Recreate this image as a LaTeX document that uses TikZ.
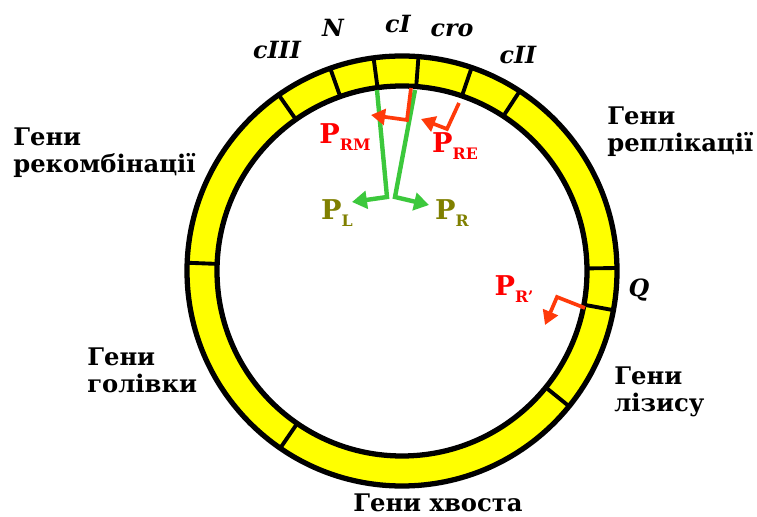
\documentclass[tikz,border=0pt]{standalone}
\usepackage{fontspec}
\setmainfont{DejaVu Serif}
\usetikzlibrary{arrows.meta}

\definecolor{genyellow}{HTML}{FFFF00}
\definecolor{promgreen}{HTML}{3CC83C}
\definecolor{promred}{HTML}{FF3A0A}
\definecolor{labred}{HTML}{FF0000}
\definecolor{labolive}{HTML}{808000}

\newcommand{\promname}[1]{P\raisebox{-0.45ex}{\fontsize{9}{9}\selectfont #1}}

\tikzset{
  genes/.style={font=\bfseries\fontsize{13.8}{15.5}\selectfont, align=left, anchor=west, inner sep=0pt},
  gene/.style={font=\bfseries\itshape\fontsize{13.5}{13.5}\selectfont, inner sep=0pt},
  prom/.style={font=\bfseries\fontsize{15.5}{15.5}\selectfont, inner sep=0pt},
  greenarrow/.style={promgreen, line width=2.5pt, -{Triangle[length=8.5pt,width=10pt]}},
  redarrow/.style={promred, line width=2.1pt, -{Triangle[length=8pt,width=9pt]}},
}

\begin{document}
\begin{tikzpicture}[x=0.02cm, y=0.02cm]
\useasboundingbox (0,0) rectangle (757,517);
\coordinate (c) at (402,246);

% Ring of genes
\fill[genyellow, even odd rule] (c) circle (215) (c) circle (185);
\draw[line width=3pt] (c) circle (215) (c) circle (185);
\foreach \a in {125,109.5,97.6,85.6,71.1,56.8,0.8,-10.5,-39,-124.5,177.8}
  \draw[line width=2.2pt, shift={(c)}] (\a:185) -- (\a:215);

% Gene names
\node[gene] (cIII) at (277,467) {cIII};
\node[gene] (N) at (333,489) {N};
\node[gene] (cI) at (398,493) {cI};
\node[gene] (cro) at (452,487) {cro};
\node[gene] (cII) at (518,462) {cII};
\node[gene] (Q) at (639,227) {Q};

% Gene groups
\node[genes] (recomb) at (13,364) {Гени\\рекомбінації};
\node[genes] (repl) at (607,385) {Гени\\реплікації};
\node[genes] (head) at (87,147) {Гени\\голівки};
\node[genes] (lysis) at (614,125) {Гени\\лізису};
\node[genes, anchor=center] (tail) at (438,14) {Гени хвоста};

% Promoters
\node[prom, labred] (PRM) at (345,380) {\promname{RM}};
\node[prom, labred] (PRE) at (455,371) {\promname{RE}};
\node[prom, labred] (PRp) at (514,228) {\promname{R'}};
\node[prom, labolive] (PL) at (337,304) {\promname{L}};
\node[prom, labolive] (PR) at (452,304) {\promname{R}};

% Green transcripts
\coordinate (pl0) at (377,427);
\coordinate (pl1) at (387,320);
\coordinate (pl2) at (352,315);
\coordinate (pr0) at (415,427);
\coordinate (pr1) at (395,320);
\coordinate (pr2) at (429,312);
\draw[greenarrow] (pl0) -- (pl1) -- (pl2);
\draw[greenarrow] (pr0) -- (pr1) -- (pr2);

% Red transcripts
\coordinate (prm0) at (411,429);
\coordinate (prm1) at (407,397);
\coordinate (prm2) at (371,402);
\coordinate (pre0) at (459,414);
\coordinate (pre1) at (447,388);
\coordinate (pre2) at (421,398);
\coordinate (prp0) at (585,209);
\coordinate (prp1) at (557,220);
\coordinate (prp2) at (545,192);
\draw[redarrow] (prm0) -- (prm1) -- (prm2);
\draw[redarrow] (pre0) -- (pre1) -- (pre2);
\draw[redarrow] (prp0) -- (prp1) -- (prp2);

\end{tikzpicture}
\end{document}
